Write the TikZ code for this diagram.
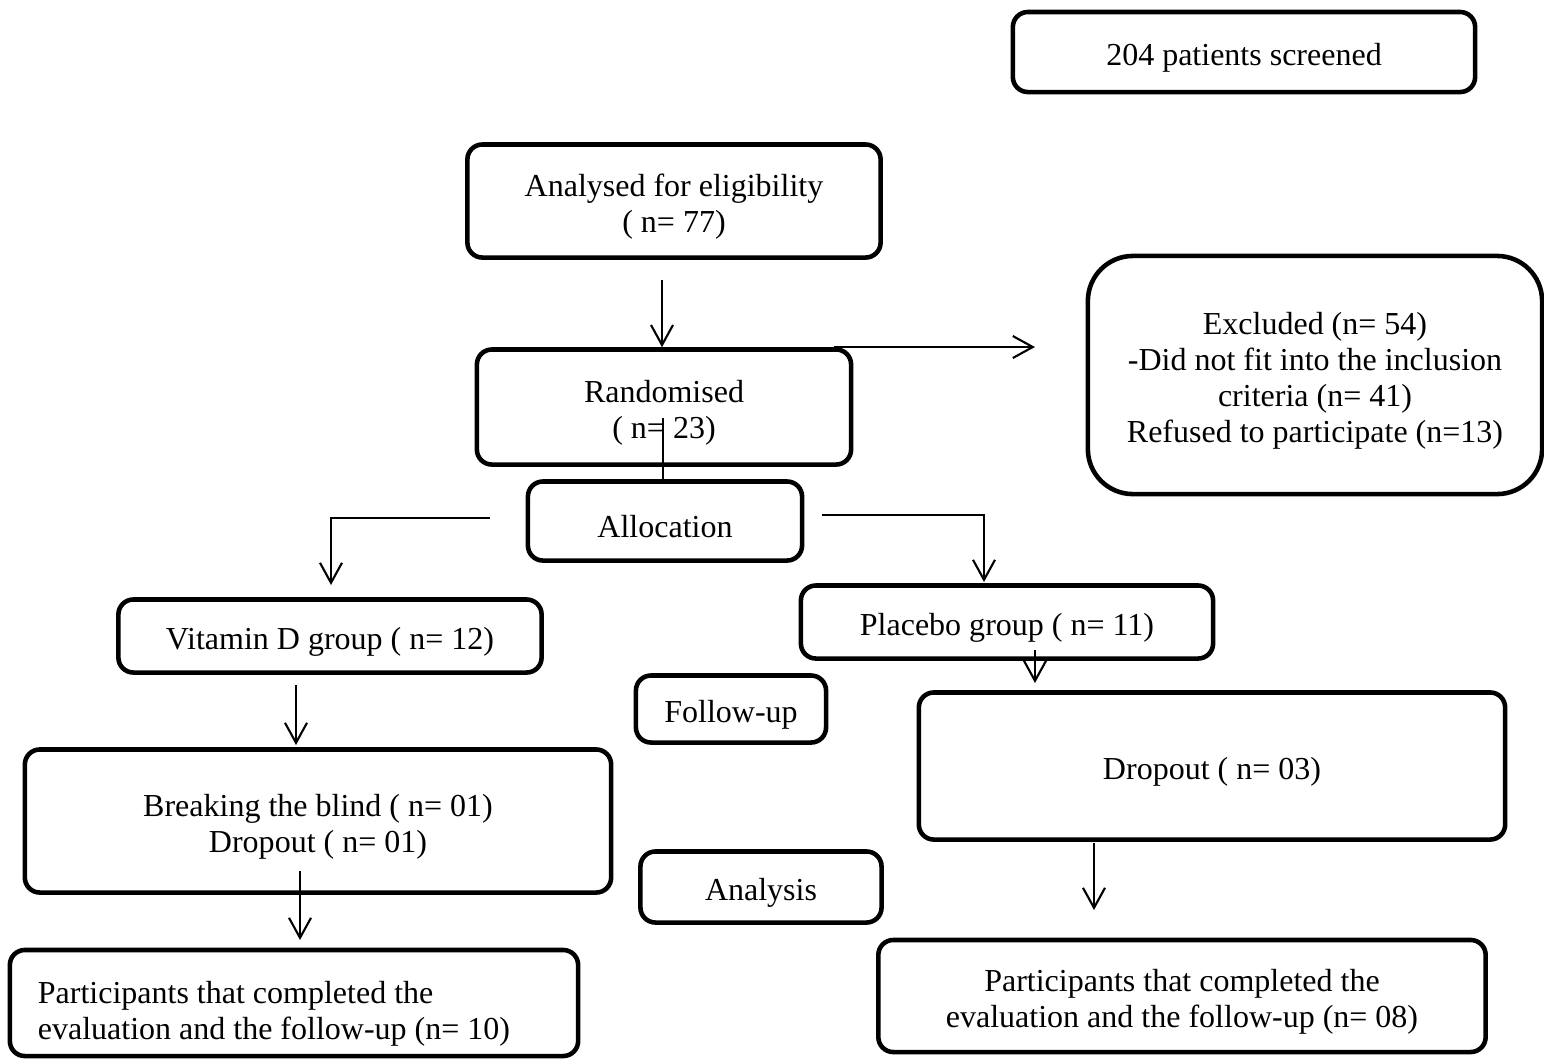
\documentclass[tikz,border=0pt]{standalone}
\usepackage{fontspec}
\setmainfont{Liberation Serif}
\usetikzlibrary{arrows.meta}

\begin{document}
\begin{tikzpicture}[x=0.01cm,y=-0.01cm,
  box/.style={draw,line width=1.3pt,rounded corners=0.15cm,align=center,
              inner sep=0pt,text height=0.34cm,font=\fontsize{9.1}{10.3}\selectfont},
  mbox/.style={box,align=flush center,text width=#1,minimum width=#1},
  arr/.style={-{Straight Barb[length=0.2cm,width=0.22cm]},line width=0.6pt},
  ln/.style={line width=0.6pt}]
  \useasboundingbox (0,0) rectangle (1544,1059);

  \node[box,minimum width=4.62cm,minimum height=0.80cm] (screen) at (1244,52)  {204 patients screened};
  \node[mbox=4.13cm,minimum height=1.13cm] (elig)   at (674,201)  {Analysed for eligibility\\( n= 77)};
  \node[mbox=3.74cm,minimum height=1.15cm] (rand)   at (664,407)  {Randomised\\( n= 23)};
  \node[mbox=4.54cm,minimum height=2.38cm,rounded corners=0.45cm] (excl) at (1315,375)
       {Excluded (n= 54)\\-Did not fit into the inclusion\\criteria (n= 41)\\Refused to participate (n=13)};
  \node[box,minimum width=2.74cm,minimum height=0.79cm] (alloc)  at (665,521)  {Allocation};
  \node[box,minimum width=4.23cm,minimum height=0.73cm] (vitd)   at (330,636)  {Vitamin D group ( n= 12)};
  \node[box,minimum width=4.12cm,minimum height=0.73cm] (plac)   at (1007,622) {Placebo group ( n= 11)};
  \node[box,minimum width=1.90cm,minimum height=0.67cm] (follow) at (731,709)  {Follow-up};
  \node[box,minimum width=5.86cm,minimum height=1.47cm] (dropr)  at (1212,766) {Dropout ( n= 03)};
  \node[mbox=5.86cm,minimum height=1.43cm] (dropl)  at (318,821)  {Breaking the blind ( n= 01)\\Dropout ( n= 01)};
  \node[box,minimum width=2.41cm,minimum height=0.71cm] (anal)   at (761,887)  {Analysis};
  \node[box,minimum width=5.68cm,minimum height=1.06cm,align=flush left,text width=5.12cm,
        text height=0.44cm] (compl) at (294,1003)
       {Participants that completed the\\evaluation and the follow-up (n= 10)};
  \node[mbox=6.07cm,minimum height=1.12cm] (compr)  at (1182,996)
       {Participants that completed the\\evaluation and the follow-up (n= 08)};

  % free ends of the connectors
  \coordinate (c1) at (662,280);
  \coordinate (c2) at (834,347);
  \coordinate (c3) at (1035,347);
  \coordinate (c4) at (663,418);
  \coordinate (c5) at (490,518);
  \coordinate (c6) at (822,515);
  \coordinate (c7) at (296,685);
  \coordinate (c8) at (1035,650);
  \coordinate (c9) at (300,871);
  \coordinate (c10) at (1094,843);

  \draw[arr] (c1) -- (c1 |- rand.north);
  \draw[arr] (c2) -- (c3);
  \draw[ln]  (c4) -- (c4 |- alloc.north);
  \draw[arr] (c5) -- (331,518) -- (331,585);
  \draw[arr] (c6) -- (984,515) -- (984,582);
  \draw[arr] (c7) -- (296,745);
  \draw[arr] (c8) -- (1035,683);
  \draw[arr] (c9) -- (300,940);
  \draw[arr] (c10) -- (1094,910);

\end{tikzpicture}
\end{document}
